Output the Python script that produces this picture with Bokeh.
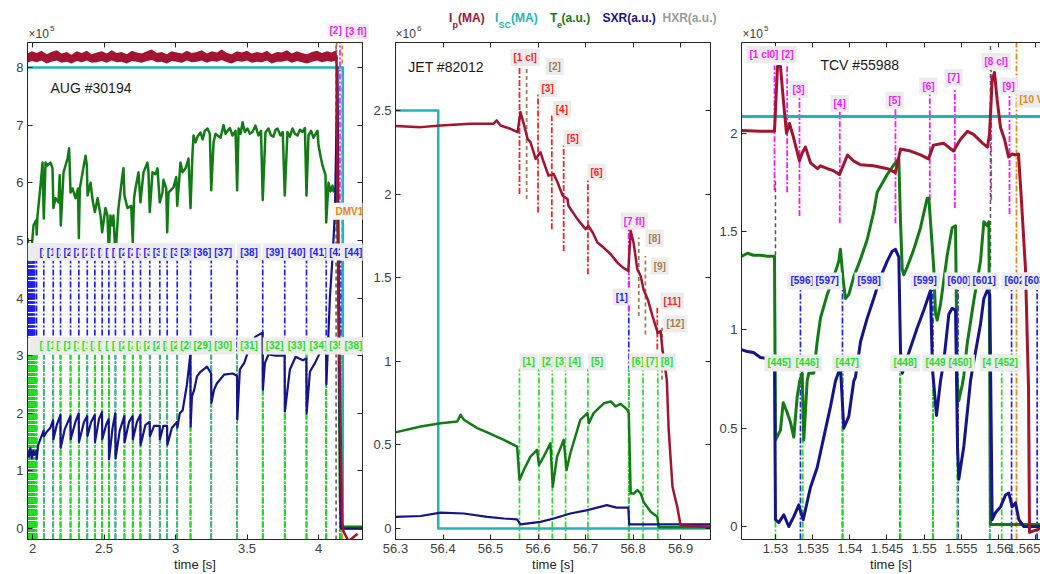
import numpy as np
from bokeh.plotting import figure
from bokeh.models import Range1d, LinearAxis, FixedTicker, Label
from bokeh.layouts import row, column
from bokeh.embed import file_html
from bokeh.resources import INLINE

# ============================ DATA ============================
# ---------------- AUG #30194  (x1e5) ----------------
# Ip: noisy flat-top band (envelope of the noisy trace), then the quench tail
aug_ip_env_t = [1.965, 1.995, 2.030, 2.062, 2.100, 2.131, 2.170, 2.203, 2.240, 2.272,
                2.310, 2.344, 2.380, 2.413, 2.450, 2.484, 2.520, 2.553, 2.590, 2.622,
                2.660, 2.694, 2.730, 2.763, 2.800, 2.834, 2.870, 2.903, 2.940, 2.972,
                3.010, 3.044, 3.080, 3.113, 3.150, 3.183, 3.220, 3.254, 3.290, 3.323,
                3.360, 3.393, 3.430, 3.464, 3.500, 3.533, 3.570, 3.604, 3.640, 3.672,
                3.710, 3.744, 3.780, 3.813, 3.850, 3.883, 3.920, 3.954, 3.990, 4.024,
                4.060, 4.092, 4.124]
aug_ip_hi = [8.24, 8.28, 8.25, 8.29, 8.23, 8.27, 8.30, 8.24, 8.27, 8.22,
             8.28, 8.25, 8.29, 8.23, 8.26, 8.28, 8.24, 8.30, 8.25, 8.27,
             8.23, 8.29, 8.26, 8.24, 8.28, 8.31, 8.25, 8.27, 8.23, 8.28,
             8.26, 8.24, 8.29, 8.25, 8.27, 8.30, 8.24, 8.28, 8.26, 8.31,
             8.25, 8.23, 8.28, 8.26, 8.29, 8.24, 8.27, 8.25, 8.29, 8.23,
             8.27, 8.26, 8.30, 8.24, 8.28, 8.25, 8.23, 8.27, 8.29, 8.25,
             8.28, 8.26, 8.30]
aug_ip_lo = [8.08, 8.11, 8.09, 8.12, 8.07, 8.10, 8.12, 8.08, 8.10, 8.07,
             8.11, 8.09, 8.12, 8.08, 8.09, 8.11, 8.08, 8.12, 8.09, 8.10,
             8.07, 8.11, 8.10, 8.08, 8.11, 8.13, 8.09, 8.10, 8.07, 8.11,
             8.10, 8.08, 8.12, 8.09, 8.10, 8.12, 8.08, 8.11, 8.10, 8.13,
             8.09, 8.07, 8.11, 8.10, 8.12, 8.08, 8.10, 8.09, 8.12, 8.07,
             8.10, 8.10, 8.12, 8.08, 8.11, 8.09, 8.07, 8.10, 8.12, 8.09,
             8.11, 8.10, 8.12]
aug_ip_tail = [(4.124, 8.18), (4.126, 8.20), (4.140, 4.00), (4.165, 0.10), (4.175, -0.05), (4.210, -0.22), (4.273, -0.09)]
aug_isc = [(1.965, 8.00), (4.170, 8.00), (4.170, 0.00), (4.307, 0.00)]
aug_te = [(1.965, 5.04), (1.986, 4.62), (2.007, 5.26), (2.026, 5.35), (2.029, 5.10), (2.035, 5.43), (2.056, 5.95), (2.070, 6.35),
          (2.079, 5.38), (2.091, 6.35), (2.105, 6.30), (2.126, 6.35), (2.140, 6.25), (2.146, 5.56), (2.161, 5.73), (2.182, 5.66),
          (2.190, 6.13), (2.198, 5.26), (2.217, 6.18), (2.245, 6.42), (2.256, 6.60), (2.266, 5.83), (2.280, 5.90), (2.301, 5.73),
          (2.318, 5.90), (2.324, 5.04), (2.331, 5.90), (2.350, 6.18), (2.371, 6.47), (2.380, 6.30), (2.385, 5.78), (2.406, 6.00),
          (2.420, 5.70), (2.436, 5.49), (2.455, 5.73), (2.476, 5.43), (2.487, 5.14), (2.510, 5.56), (2.524, 5.43), (2.534, 4.79),
          (2.545, 5.43), (2.559, 5.26), (2.566, 5.43), (2.580, 4.74), (2.601, 5.56), (2.629, 6.13), (2.636, 6.25), (2.643, 5.78),
          (2.664, 5.56), (2.690, 5.60), (2.701, 4.97), (2.710, 5.73), (2.720, 5.90), (2.741, 6.18), (2.755, 5.66), (2.776, 6.18),
          (2.804, 6.35), (2.811, 6.18), (2.820, 5.49), (2.839, 6.18), (2.860, 6.15), (2.874, 6.25), (2.890, 5.66), (2.909, 5.83),
          (2.916, 6.05), (2.935, 5.90), (2.942, 5.14), (2.951, 5.83), (2.986, 5.92), (3.005, 6.10), (3.012, 5.60), (3.035, 6.35),
          (3.049, 6.18), (3.070, 6.25), (3.091, 6.42), (3.105, 5.56), (3.119, 6.52), (3.126, 6.82), (3.140, 6.70), (3.154, 6.80),
          (3.175, 6.87), (3.190, 6.75), (3.205, 6.90), (3.224, 6.94), (3.240, 6.85), (3.250, 5.87), (3.266, 6.70), (3.280, 6.85),
          (3.294, 6.82), (3.315, 6.78), (3.336, 7.00), (3.350, 6.85), (3.364, 6.90), (3.380, 6.95), (3.399, 6.82), (3.420, 6.90),
          (3.431, 5.87), (3.441, 6.94), (3.455, 6.85), (3.469, 7.05), (3.485, 6.88), (3.503, 6.94), (3.520, 6.85), (3.538, 6.88),
          (3.559, 6.99), (3.580, 6.82), (3.598, 6.90), (3.610, 5.70), (3.629, 6.87), (3.650, 6.94), (3.668, 6.82), (3.685, 6.80),
          (3.700, 6.92), (3.713, 6.94), (3.734, 6.82), (3.750, 6.88), (3.764, 5.78), (3.783, 6.88), (3.800, 6.80), (3.818, 6.94),
          (3.835, 6.85), (3.853, 6.82), (3.870, 6.92), (3.888, 6.88), (3.905, 6.95), (3.916, 5.78), (3.930, 6.82), (3.948, 6.90),
          (3.965, 6.78), (3.980, 6.85), (3.993, 6.90), (4.000, 6.65), (4.015, 6.45), (4.028, 6.30), (4.049, 6.13), (4.054, 5.31),
          (4.070, 6.00), (4.085, 5.85), (4.098, 5.95), (4.105, 5.85), (4.118, 5.90), (4.133, 5.73), (4.150, 0.50), (4.160, 0.03),
          (4.307, 0.03)]
aug_sxr_t = [1.965, 1.975, 1.985, 1.995, 2.005, 2.015, 2.027, 2.029, 2.040, 2.055, 2.078, 2.080, 2.100, 2.125, 2.144, 2.146,
             2.170, 2.195, 2.197, 2.225, 2.265, 2.267, 2.300, 2.323, 2.325, 2.360, 2.382, 2.384, 2.410, 2.435, 2.437, 2.465,
             2.486, 2.488, 2.515, 2.533, 2.535, 2.560, 2.579, 2.581, 2.610, 2.642, 2.644, 2.675, 2.700, 2.702, 2.730, 2.754,
             2.756, 2.790, 2.819, 2.821, 2.850, 2.889, 2.891, 2.915, 2.941, 2.943, 2.975, 3.011, 3.013, 3.030, 3.050, 3.080,
             3.104, 3.106, 3.115, 3.130, 3.150, 3.175, 3.220, 3.249, 3.251, 3.270, 3.290, 3.340, 3.400, 3.430, 3.432, 3.450,
             3.480, 3.520, 3.560, 3.609, 3.611, 3.625, 3.650, 3.700, 3.763, 3.765, 3.800, 3.840, 3.890, 3.915, 3.917, 3.940,
             3.975, 4.020, 4.053, 4.055, 4.080, 4.100, 4.115, 4.133, 4.145, 4.155, 4.307]
aug_sxr = [1.35, 1.25, 1.40, 1.22, 1.35, 1.28, 1.35, 1.20, 1.45, 1.55, 1.70, 1.60, 1.68, 1.75, 1.88, 1.55,
           1.80, 1.97, 1.40, 1.72, 1.95, 1.55, 1.85, 2.00, 1.50, 1.85, 1.95, 1.60, 1.85, 1.97, 1.50, 1.90,
           2.02, 1.55, 1.80, 1.90, 1.20, 1.75, 2.00, 1.22, 1.70, 1.95, 1.50, 1.85, 1.95, 1.55, 1.85, 1.97,
           1.45, 1.80, 1.85, 1.60, 1.78, 1.78, 1.55, 1.78, 1.78, 1.45, 1.75, 1.85, 1.75, 2.00, 2.05, 2.50,
           3.02, 1.77, 2.29, 2.40, 2.64, 2.72, 2.81, 2.69, 2.18, 2.41, 2.52, 2.67, 2.69, 2.65, 1.89, 2.76,
           2.87, 3.16, 3.33, 3.40, 2.41, 2.87, 3.02, 3.00, 3.00, 2.03, 2.76, 2.98, 2.92, 2.95, 2.00, 2.72,
           2.87, 3.10, 3.20, 2.50, 4.02, 4.78, 5.50, 8.00, 3.00, 0.00, 0.00]
aug_te_crash = [1.967, 1.972, 1.977, 1.982, 1.987, 1.992, 1.997, 2.003, 2.009, 2.016,
                2.028, 2.079, 2.145, 2.196, 2.266, 2.324, 2.383, 2.436, 2.487, 2.534, 2.580, 2.643, 2.701, 2.755,
                2.820, 2.890, 2.942, 3.012, 3.105, 3.250, 3.431, 3.610, 3.764, 3.916, 4.054, 4.152, 4.156, 4.161]
aug_sxr_crash = [1.966, 1.969, 1.971, 1.974, 1.976, 1.979, 1.982, 1.984, 1.987, 1.990, 1.993, 1.996, 1.999, 2.002,
                 2.006, 2.010, 2.015,
                 2.028, 2.079, 2.145, 2.196, 2.266, 2.324, 2.383, 2.436, 2.487, 2.534, 2.580, 2.643, 2.701, 2.755,
                 2.820, 2.890, 2.942, 3.012, 3.105, 3.250, 3.431, 3.610, 3.764, 3.916, 4.054, 4.150, 4.161]
aug_hxr_t = 4.123
aug_ev2_t = 4.127
aug_fl_t = 4.150
aug_dmv_t = 4.166

# ---------------- JET #82012  (x1e6) ----------------
jet_ip = [(56.300, 2.407), (56.353, 2.400), (56.395, 2.410), (56.458, 2.420), (56.506, 2.420), (56.513, 2.440), (56.521, 2.410),
          (56.542, 2.390), (56.557, 2.370), (56.563, 2.490), (56.569, 2.430), (56.578, 2.330), (56.584, 2.310), (56.595, 2.210),
          (56.605, 2.250), (56.612, 2.190), (56.622, 2.110), (56.633, 2.120), (56.641, 2.070), (56.652, 1.990), (56.662, 1.970),
          (56.664, 1.930), (56.683, 1.850), (56.700, 1.790), (56.706, 1.810), (56.715, 1.770), (56.725, 1.710), (56.738, 1.680),
          (56.753, 1.640), (56.767, 1.590), (56.779, 1.560), (56.790, 1.540), (56.795, 1.780), (56.801, 1.710), (56.809, 1.550),
          (56.816, 1.510), (56.822, 1.430), (56.831, 1.370), (56.841, 1.270), (56.852, 1.170), (56.858, 1.180), (56.862, 1.070),
          (56.871, 0.890), (56.875, 0.590), (56.883, 0.250), (56.893, 0.130), (56.900, 0.020), (56.963, 0.010)]
jet_isc = [(56.300, 2.50), (56.390, 2.50), (56.390, 0.00), (56.963, 0.00)]
jet_te = [(56.300, 0.575), (56.353, 0.610), (56.395, 0.630), (56.430, 0.640), (56.437, 0.680), (56.444, 0.650), (56.472, 0.600),
          (56.493, 0.575), (56.528, 0.530), (56.556, 0.490), (56.561, 0.290), (56.570, 0.350), (56.584, 0.430), (56.598, 0.470),
          (56.602, 0.380), (56.612, 0.430), (56.626, 0.510), (56.631, 0.250), (56.640, 0.430), (56.654, 0.530), (56.660, 0.350),
          (56.668, 0.450), (56.689, 0.650), (56.704, 0.690), (56.707, 0.630), (56.717, 0.690), (56.739, 0.750), (56.753, 0.760),
          (56.763, 0.730), (56.774, 0.745), (56.788, 0.710), (56.791, 0.690), (56.795, 0.210), (56.802, 0.210), (56.809, 0.230),
          (56.816, 0.210), (56.823, 0.155), (56.837, 0.100), (56.851, 0.070), (56.854, 0.008), (56.963, 0.008)]
jet_sxr = [(56.300, 0.070), (56.353, 0.075), (56.395, 0.095), (56.444, 0.090), (56.493, 0.070), (56.528, 0.060), (56.556, 0.055),
           (56.563, 0.025), (56.605, 0.040), (56.633, 0.060), (56.668, 0.090), (56.704, 0.110), (56.745, 0.140), (56.765, 0.125),
           (56.790, 0.125), (56.792, 0.025), (56.850, 0.025), (56.963, 0.025)]
jet_ev_t = [56.561, 56.576, 56.600, 56.629, 56.654, 56.705, 56.791, 56.812, 56.826, 56.851, 56.861]
jet_ev_lo = [2.00, 1.97, 1.89, 1.79, 1.66, 1.52, 1.30, 1.27, 1.16, 1.07, 0.89]
jet_ev_hi = [2.77, 2.78, 2.60, 2.47, 2.29, 2.09, 1.79, 1.74, 1.63, 1.32, 1.20]
jet_ev_txt = ["[1 cl]", "[2]", "[3]", "[4]", "[5]", "[6]", "[7 fl]", "[8]", "[9]", "[11]", "[12]"]
jet_ev_kind = ["red", "brown", "red", "red", "red", "red", "magenta", "brown", "brown", "red", "brown"]
jet_sxr_crash = [56.791]
jet_sxr_crash_hi = 1.50
jet_te_crash = [56.561, 56.602, 56.630, 56.658, 56.705, 56.791, 56.821, 56.852]

# ---------------- TCV #55988  (x1e5) ----------------
tcv_ip = [(1.52543, 2.015), (1.52798, 2.010), (1.52987, 2.010), (1.53027, 2.340), (1.53067, 2.340), (1.53108, 2.160),
          (1.53148, 2.000), (1.53188, 2.050), (1.53242, 1.980), (1.53323, 1.860), (1.53359, 1.900), (1.53404, 1.930),
          (1.53471, 1.850), (1.53565, 1.820), (1.53605, 1.835), (1.53700, 1.820), (1.53780, 1.810), (1.53861, 1.790),
          (1.53969, 1.890), (1.54049, 1.860), (1.54144, 1.840), (1.54318, 1.835), (1.54507, 1.820), (1.54614, 1.800),
          (1.54682, 1.920), (1.54816, 1.910), (1.54951, 1.890), (1.55058, 1.870), (1.55126, 1.940), (1.55260, 1.950),
          (1.55395, 1.910), (1.55489, 1.970), (1.55583, 2.010), (1.55664, 1.995), (1.55785, 1.950), (1.55852, 1.930),
          (1.55879, 1.995), (1.55915, 2.270), (1.55946, 2.310), (1.55982, 2.170), (1.56027, 2.030), (1.56081, 1.970),
          (1.56135, 1.880), (1.56184, 1.895), (1.56229, 1.890), (1.56269, 1.895), (1.56310, 1.650), (1.56363, 1.310),
          (1.56404, 0.700), (1.56417, -0.030), (1.56565, -0.010)]
tcv_isc = [(1.52543, 2.086), (1.56565, 2.086)]
tcv_te = [(1.52543, 1.374), (1.52623, 1.390), (1.52704, 1.380), (1.52798, 1.380), (1.52892, 1.375), (1.52987, 1.375),
          (1.53000, 0.440), (1.53067, 0.490), (1.53104, 0.630), (1.53157, 0.580), (1.53202, 0.530), (1.53246, 0.455),
          (1.53292, 0.660), (1.53327, 0.740), (1.53359, 0.780), (1.53381, 0.440), (1.53426, 0.740), (1.53448, 0.780),
          (1.53515, 0.780), (1.53561, 0.940), (1.53605, 1.060), (1.53696, 1.180), (1.53784, 1.270), (1.53852, 1.350),
          (1.53874, 1.410), (1.53911, 1.250), (1.53942, 1.160), (1.53986, 1.180), (1.54053, 1.270), (1.54144, 1.360),
          (1.54234, 1.460), (1.54322, 1.600), (1.54368, 1.700), (1.54503, 1.790), (1.54592, 1.840), (1.54659, 1.870),
          (1.54682, 1.550), (1.54705, 1.310), (1.54726, 1.280), (1.54772, 1.320), (1.54861, 1.410), (1.54951, 1.520),
          (1.55041, 1.670), (1.55063, 1.670), (1.55130, 1.310), (1.55153, 1.080), (1.55175, 1.050), (1.55220, 1.130),
          (1.55310, 1.380), (1.55377, 1.520), (1.55422, 1.530), (1.55444, 0.740), (1.55466, 0.640), (1.55512, 0.720),
          (1.55534, 0.770), (1.55579, 0.930), (1.55668, 1.150), (1.55758, 1.350), (1.55803, 1.550), (1.55848, 1.530),
          (1.55870, 1.550), (1.55883, 0.740), (1.55892, 0.010), (1.56565, 0.010)]
tcv_sxr = [(1.52543, 0.900), (1.52623, 0.890), (1.52704, 0.885), (1.52798, 0.860), (1.52892, 0.855), (1.52987, 0.850),
           (1.53000, 0.035), (1.53045, 0.020), (1.53112, 0.060), (1.53179, 0.000), (1.53246, 0.050), (1.53314, 0.110),
           (1.53336, 0.080), (1.53373, 0.035), (1.53471, 0.200), (1.53561, 0.300), (1.53650, 0.455), (1.53740, 0.610),
           (1.53807, 0.740), (1.53874, 0.810), (1.53919, 0.500), (1.53986, 0.560), (1.54053, 0.740), (1.54076, 0.760),
           (1.54144, 0.940), (1.54234, 1.060), (1.54322, 1.160), (1.54413, 1.270), (1.54503, 1.350), (1.54570, 1.400),
           (1.54614, 1.410), (1.54659, 1.370), (1.54682, 0.890), (1.54705, 0.780), (1.54772, 0.860), (1.54906, 1.010),
           (1.54995, 1.100), (1.55085, 1.200), (1.55112, 0.800), (1.55166, 0.565), (1.55220, 0.740), (1.55264, 0.840),
           (1.55332, 1.080), (1.55377, 1.110), (1.55422, 1.100), (1.55449, 0.400), (1.55466, 0.240), (1.55534, 0.410),
           (1.55579, 0.575), (1.55623, 0.740), (1.55668, 0.840), (1.55758, 1.030), (1.55803, 1.160), (1.55848, 1.200),
           (1.55883, 1.180), (1.55915, 0.035), (1.55959, 0.070), (1.56027, 0.100), (1.56094, 0.160), (1.56139, 0.170),
           (1.56184, 0.100), (1.56229, 0.120), (1.56274, 0.035), (1.56341, 0.000), (1.56565, 0.000)]
tcv_ev_t = [1.52987, 1.53157, 1.53323, 1.53865, 1.54614, 1.55076, 1.55412, 1.55902, 1.56148]
tcv_ev_lo = [1.71, 1.70, 1.58, 1.543, 1.543, 1.66, 1.62, 1.66, 1.59]
tcv_ev_hi = [2.345, 2.345, 2.19, 2.127, 2.127, 2.20, 2.23, 2.335, 2.19]
tcv_ev_txt = ["[1 cl0]", "[2]", "[3]", "[4]", "[5]", "[6]", "[7]", "[8 cl]", "[9]"]
tcv_hxr_t = [1.53000, 1.55892]
tcv_hxr_lo = [1.38, 1.32]
tcv_hxr_hi = [1.76, 2.462]
tcv_vde_t = 1.56242
tcv_sxr_crash = [1.53336, 1.53901, 1.54676, 1.55118, 1.55455, 1.55882, 1.56176, 1.56520]
tcv_sxr_crash_id = [596, 597, 598, 599, 600, 601, 602, 603]
tcv_te_crash = [1.53000, 1.53367, 1.53905, 1.54682, 1.55117, 1.55444, 1.55883, 1.56043]
tcv_te_crash_id = [445, 446, 447, 448, 449, 450, 451, 452]

# ============================ STYLE / LAYOUT ============================
FONT = "Liberation Sans"
AXC = "#262626"
TXC = "#404040"
C_IP, C_ISC, C_TE, C_SXR, C_HXR = "#a2142f", "#1fb5bb", "#117c14", "#14148c", "#9a9a9a"
C_GL, C_BL, C_RD, C_BR, C_MG, C_OR, C_GR = "#1fe01f", "#1f1fff", "#ff1f1f", "#a57c52", "#ff14ff", "#e8860e", "#555555"
LBG = "#ececec"
EV_COL = {"red": C_RD, "brown": C_BR, "magenta": C_MG}
EV_DASH = {"red": "6 2 2 2", "brown": "4 3", "magenta": "6 2 2 2"}
DD = "6 2 2 2"
STRIP_H = 40
H, TOPB, BOTB = 534, 2, 34


def style_axis(ax, labels=True):
    ax.axis_line_color = AXC
    ax.major_tick_line_color = AXC
    ax.major_tick_in = 5
    ax.major_tick_out = 0
    ax.minor_tick_line_color = None
    if labels:
        ax.major_label_text_font = FONT
        ax.major_label_text_font_size = "13px"
        ax.major_label_text_color = TXC
        ax.major_label_standoff = 4
        ax.axis_label_text_font = FONT
        ax.axis_label_text_font_size = "13px"
        ax.axis_label_text_font_style = "normal"
        ax.axis_label_text_color = AXC
        ax.axis_label_standoff = 1
    else:
        ax.major_label_text_font_size = "1px"
        ax.major_label_standoff = 0


def make_fig(w, bl, br, xr, yr, xt, xtl, yt, ytl, mirror_right=True):
    p = figure(width=w, height=H, x_range=Range1d(*xr), y_range=Range1d(*yr),
               output_backend="svg", toolbar_location=None,
               min_border_left=bl, min_border_right=br, min_border_top=TOPB, min_border_bottom=BOTB)
    p.xgrid.visible = False
    p.ygrid.visible = False
    p.outline_line_color = AXC if mirror_right else None
    style_axis(p.xaxis[0])
    style_axis(p.yaxis[0])
    p.xaxis[0].ticker = FixedTicker(ticks=xt)
    p.xaxis[0].major_label_overrides = {v: s for v, s in zip(xt, xtl)}
    p.yaxis[0].ticker = FixedTicker(ticks=yt)
    p.yaxis[0].major_label_overrides = {v: s for v, s in zip(yt, ytl)}
    p.xaxis[0].axis_label = "time [s]"
    top = LinearAxis(ticker=FixedTicker(ticks=xt))
    style_axis(top, labels=False)
    top.major_label_overrides = {v: "" for v in xt}
    p.add_layout(top, "above")
    if mirror_right:
        r = LinearAxis(ticker=FixedTicker(ticks=yt))
        style_axis(r, labels=False)
        r.major_label_overrides = {v: "" for v in yt}
        p.add_layout(r, "right")
    return p


def curve(p, pts, color, width=2.5):
    xs = [a for a, b in pts]
    ys = [b for a, b in pts]
    p.line(xs, ys, line_color=color, line_width=width, line_join="round")


def vlines(p, ts, lo, hi, color, dash, width=1.7):
    p.segment(x0=list(ts), x1=list(ts), y0=lo, y1=hi, line_color=color, line_dash=dash, line_width=width)


def tag(p, x, y, text, color, size="10px", bg=LBG, pad=3):
    p.add_layout(Label(x=x, y=y, text=text, text_color=color, text_font=FONT, text_font_size=size,
                       text_font_style="bold", text_align="left", text_baseline="middle",
                       background_fill_color=bg, background_fill_alpha=1.0, padding=pad))


def plain(p, x, y, text, color, size, bold=False):
    p.add_layout(Label(x=x, y=y, text=text, text_color=color, text_font=FONT, text_font_size=size,
                       text_font_style="bold" if bold else "normal", text_align="left",
                       text_baseline="middle"))


# ---------------- top strip (legend, exponents, labels above the axes) ----------------
strip = figure(width=1040, height=STRIP_H, x_range=Range1d(0, 1040), y_range=Range1d(STRIP_H, 0),
               output_backend="svg", toolbar_location=None, x_axis_type=None, y_axis_type=None,
               min_border=0)
strip.grid.visible = False
strip.outline_line_color = None
for x0, e in [(28, "5"), (395, "6"), (742, "5")]:
    plain(strip, x0, 33, "\u00d710", TXC, "12px")
    plain(strip, x0 + 21.5, 28, e, TXC, "8px")
plain(strip, 448.5, 17, "I", C_IP, "12px", True)
plain(strip, 452.0, 24, "p", C_IP, "9px", True)
plain(strip, 457.5, 17, "(MA)", C_IP, "12px", True)
plain(strip, 494.5, 17, "I", C_ISC, "12px", True)
plain(strip, 498.0, 24, "SC", C_ISC, "9px", True)
plain(strip, 510.5, 17, "(MA)", C_ISC, "12px", True)
plain(strip, 549.5, 17, "T", C_TE, "12px", True)
plain(strip, 556.5, 24, "e", C_TE, "9px", True)
plain(strip, 561.0, 17, "(a.u.)", C_TE, "12px", True)
plain(strip, 602.0, 17, "SXR(a.u.)", C_SXR, "12px", True)
plain(strip, 662.0, 17, "HXR(a.u.)", C_HXR, "12px", True)
tag(strip, 327, 30, "[2]", C_MG, bg="#f7f7f7", pad=2)
tag(strip, 343, 31, "[3 fl]", C_MG, pad=2)

# ---------------- panel 1: AUG ----------------
ax1_x = (1.965, 4.3077)
ax1_y = (-0.19, 8.433)
p1 = make_fig(370, 27, 8, ax1_x, ax1_y,
              [2, 2.5, 3, 3.5, 4], ["2", "2.5", "3", "3.5", "4"],
              list(range(9)), [str(i) for i in range(9)])
vlines(p1, aug_sxr_crash, ax1_y[0], 4.658, C_BL, DD)
vlines(p1, aug_te_crash, ax1_y[0], 3.03, C_GL, DD)
vlines(p1, [aug_hxr_t], ax1_y[0], ax1_y[1], C_GR, "4 3", 1.5)
vlines(p1, [aug_ev2_t], 5.2, ax1_y[1], C_BR, "4 3", 1.7)
vlines(p1, [aug_fl_t], 5.5, ax1_y[1], C_MG, DD, 1.7)
vlines(p1, [aug_dmv_t], ax1_y[0], ax1_y[1], C_OR, "4 3", 1.7)
curve(p1, aug_isc, C_ISC, 2.5)
curve(p1, aug_te, C_TE, 2.5)
p1.line(aug_sxr_t, aug_sxr, line_color=C_SXR, line_width=2.2, line_join="round")
p1.varea(x=aug_ip_env_t, y1=aug_ip_lo, y2=aug_ip_hi, fill_color=C_IP)
curve(p1, aug_ip_tail, C_IP, 2.5)
for i, t in enumerate(aug_sxr_crash):
    tag(p1, t, 4.797, "[%d]" % (i + 1), C_BL)
for i, t in enumerate(aug_te_crash):
    tag(p1, t, 3.169, "[%d]" % (i + 1), C_GL)
tag(p1, 4.098, 5.506, "DMV1", C_OR, bg="#f7f7f7")
plain(p1, 2.126, 7.636, "AUG #30194", "#1a1a1a", "14px")

# ---------------- panel 2: JET ----------------
ax2_x = (56.3, 56.963)
ax2_y = (-0.0656, 2.906)
jt = [56.3, 56.4, 56.5, 56.6, 56.7, 56.8, 56.9]
p2 = make_fig(346, 25, 6, ax2_x, ax2_y,
              jt, ["%.1f" % v for v in jt],
              [0, 0.5, 1, 1.5, 2, 2.5], ["0", "0.5", "1", "1.5", "2", "2.5"])
vlines(p2, jet_sxr_crash, ax2_y[0], jet_sxr_crash_hi, C_BL, DD)
vlines(p2, jet_te_crash, ax2_y[0], 0.955, C_GL, DD)
for t, lo, hi, k in zip(jet_ev_t, jet_ev_lo, jet_ev_hi, jet_ev_kind):
    vlines(p2, [t], lo, hi, EV_COL[k], EV_DASH[k], 1.8)
curve(p2, jet_isc, C_ISC, 2.5)
curve(p2, jet_te, C_TE, 2.5)
curve(p2, jet_sxr, C_SXR, 2.2)
curve(p2, jet_ip, C_IP, 2.5)
jet_lab_pos = [(56.542, 2.816), (56.616, 2.763), (56.601, 2.631), (56.631, 2.506), (56.654, 2.333), (56.704, 2.130),
               (56.774, 1.838), (56.826, 1.736), (56.837, 1.569), (56.858, 1.360), (56.864, 1.223)]
for (lx, ly), txt, k in zip(jet_lab_pos, jet_ev_txt, jet_ev_kind):
    tag(p2, lx, ly, txt, EV_COL[k])
tag(p2, 56.757, 1.384, "[1]", C_BL)
for i, t in enumerate(jet_te_crash):
    tag(p2, t, 0.996, "[%d]" % (i + 1), C_GL)
plain(p2, 56.327, 2.757, "JET #82012", "#1a1a1a", "14px")

# ---------------- panel 3: TCV ----------------
ax3_x = (1.52543, 1.56565)
ax3_y = (-0.066, 2.462)
tt = [1.53, 1.535, 1.54, 1.545, 1.55, 1.555, 1.56, 1.565]
p3 = make_fig(324, 25, 0, ax3_x, ax3_y,
              tt, ["1.53", "1.535", "1.54", "1.545", "1.55", "1.555", "1.56", "1.565"],
              [0, 0.5, 1, 1.5, 2], ["0", "0.5", "1", "1.5", "2"], mirror_right=False)
vlines(p3, tcv_sxr_crash, ax3_y[0], 1.203, C_BL, DD)
vlines(p3, tcv_te_crash, ax3_y[0], 0.797, C_GL, DD)
vlines(p3, tcv_ev_t, tcv_ev_lo, tcv_ev_hi, C_MG, DD, 1.8)
vlines(p3, tcv_hxr_t, tcv_hxr_lo, tcv_hxr_hi, C_GR, "4 3", 1.5)
vlines(p3, [tcv_vde_t], ax3_y[0], ax3_y[1], C_OR, DD, 1.8)
curve(p3, tcv_isc, C_ISC, 3)
curve(p3, tcv_te, C_TE, 3)
curve(p3, tcv_sxr, C_SXR, 3)
curve(p3, tcv_ip, C_IP, 3)
tcv_ev_lab = [(1.52610, 2.401), (1.53040, 2.401), (1.53188, 2.223), (1.53740, 2.152), (1.54480, 2.168),
              (1.54937, 2.239), (1.55274, 2.284), (1.55771, 2.365), (1.56014, 2.239)]
for (lx, ly), txt in zip(tcv_ev_lab, tcv_ev_txt):
    tag(p3, lx, ly, txt, C_MG)
tag(p3, 1.56242, 2.173, "[10 VDE]", C_OR)
tcv_sxr_lab_t = [1.53161, 1.53498, 1.54063, 1.54816, 1.55274, 1.55610, 1.56040, 1.56310]
for lx, n in zip(tcv_sxr_lab_t, tcv_sxr_crash_id):
    tag(p3, lx, 1.249, "[%d]" % n, C_BL)
tcv_te_lab_t = [1.52852, 1.53229, 1.53767, 1.54547, 1.54978, 1.55287, 1.55745, 1.55906]
for lx, n in zip(tcv_te_lab_t, tcv_te_crash_id):
    tag(p3, lx, 0.832, "[%d]" % n, C_GL)
plain(p3, 1.53605, 2.350, "TCV #55988", "#1a1a1a", "14px")

layout = column(strip, row(p1, p2, p3))
open("out.html", "w").write(file_html(layout, INLINE))
